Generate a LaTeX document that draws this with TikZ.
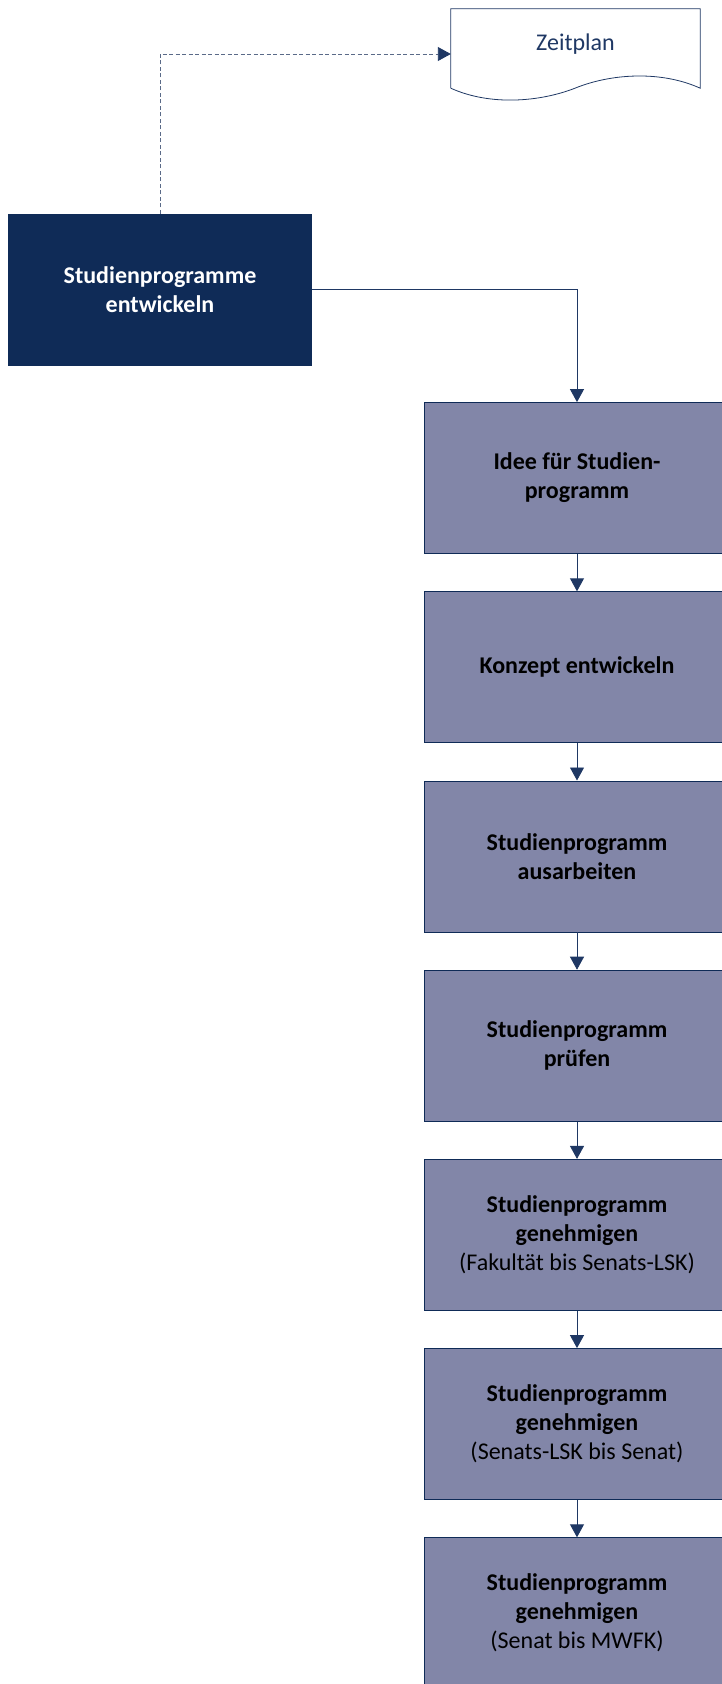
\documentclass[tikz,border=0pt]{standalone}
\usepackage{fontspec}
\setmainfont{Carlito}
\usepackage{tikz}
\usetikzlibrary{positioning,arrows.meta,calc}
\definecolor{spnavy}{HTML}{0F2B57}
\definecolor{spline}{HTML}{1F3864}
\definecolor{spviolet}{HTML}{8286A8}
\definecolor{spdash}{HTML}{5A6A88}

\begin{document}
\begin{tikzpicture}[x=1pt,y=-1pt,font=\fontsize{24}{29}\selectfont,
  main/.style={rectangle,draw=spnavy,fill=spnavy,text=white,font=\fontsize{24}{29}\selectfont\bfseries,align=center,inner sep=0pt,minimum width=303pt,minimum height=151pt},
  proc/.style={rectangle,draw=spnavy,fill=spviolet,line width=0.8pt,text=black,font=\fontsize{24}{29}\selectfont\bfseries,align=center,inner sep=0pt,minimum width=305pt,minimum height=151pt},
  doc/.style={rectangle,text=spline,inner sep=0pt,text depth=12pt,minimum width=249pt,minimum height=79pt},
  ar/.style={-{Triangle[length=13pt,width=14pt]},line width=0.9pt,spline},
  dep/.style={-{Triangle[length=13pt,width=14pt,color=spline]},line width=0.9pt,spdash,dash pattern=on 4pt off 2.5pt}]
\useasboundingbox (0,0) rectangle (722,1684);
% output document
\node[doc] (zeit) at (575.5,48.5) {Zeitplan};
\draw[spline,line width=0.8pt] (zeit.south west) -- (zeit.north west) -- (zeit.north east) -- (zeit.south east)
  .. controls (660,70) and (610,74) .. (575.5,88) .. controls (540,102) and (490,106) .. (zeit.south west);
% main process
\node[main] (dev) at (160,289.5) {Studienprogramme\\entwickeln};
% sub-processes
\node[proc] (idee) at (577,478) {Idee für Studien-\\programm};
\node[proc] (konz) at (577,667.2) {Konzept entwickeln};
\node[proc] (ausa) at (577,856.4) {Studienprogramm\\ausarbeiten};
\node[proc] (pruef) at (577,1045.6) {Studienprogramm\\prüfen};
\node[proc] (gen1) at (577,1234.8) {Studienprogramm\\genehmigen\\{\mdseries (Fakultät bis Senats-LSK)}};
\node[proc] (gen2) at (577,1424) {Studienprogramm\\genehmigen\\{\mdseries (Senats-LSK bis Senat)}};
\node[proc] (gen3) at (577,1613.2) {Studienprogramm\\genehmigen\\{\mdseries (Senat bis MWFK)}};
\draw[dep] (dev.north) |- ($(zeit.west)+(0,5.5)$);
\draw[ar] (dev.east) -| (idee.north);
\draw[ar] (idee)--(konz); \draw[ar] (konz)--(ausa); \draw[ar] (ausa)--(pruef);
\draw[ar] (pruef)--(gen1); \draw[ar] (gen1)--(gen2); \draw[ar] (gen2)--(gen3);
\end{tikzpicture}
\end{document}
